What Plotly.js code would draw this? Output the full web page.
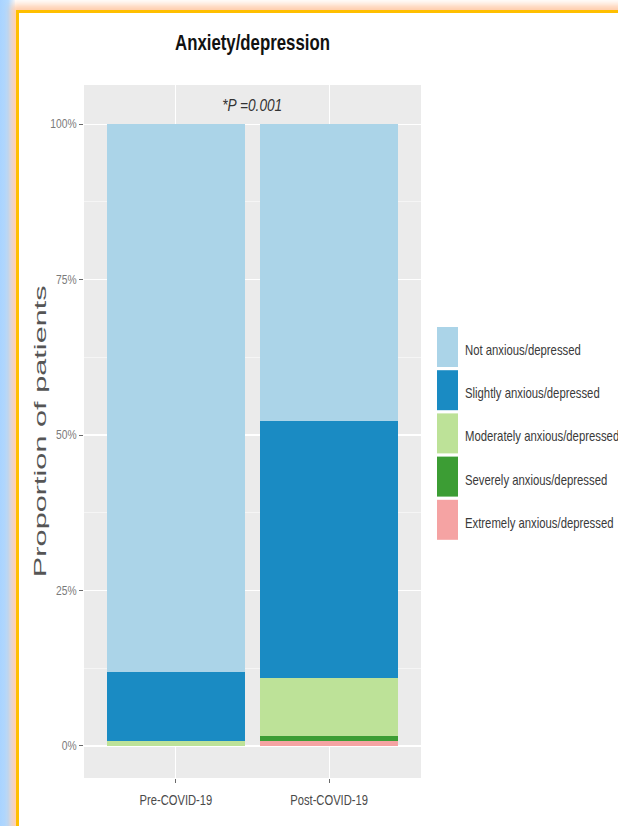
<!DOCTYPE html>
<html>
<head>
<meta charset="utf-8">
<script src="https://cdn.plot.ly/plotly-3.0.1.min.js"></script>
<style>
  html, body { margin:0; padding:0; width:618px; height:826px; overflow:hidden; background:#ffffff; }
  #strip { position:absolute; left:0; top:0; width:15px; height:826px;
    background:linear-gradient(to right, #a9d3ff 0%, #b5dbff 55%, #f4f9ff 100%); }
  #frame { position:absolute; left:16px; top:10px; width:700px; height:900px;
    border-left:3px solid #ffbf00; border-top:3px solid #ffbf00;
    box-shadow: 0 0 7px 5px rgba(255,185,140,0.75); background:#ffffff; }
  #chart { position:absolute; left:0; top:0; width:618px; height:826px; z-index:2; }
</style>
</head>
<body>
<div id="strip"></div>
<div id="frame"></div>
<div id="chart"></div>
<script>
// ---- data ----
const periods = ["Pre-COVID-19", "Post-COVID-19"];
const seriesNames = ["Not anxious/depressed", "Slightly anxious/depressed", "Moderately anxious/depressed", "Severely anxious/depressed", "Extremely anxious/depressed"];
const notAnxious = [88.1, 47.8];
const slightly   = [11.1, 41.3];
const moderately = [0.8, 9.3];
const severely   = [0.0, 0.8];
const extremely  = [0.0, 0.8];
const seriesColors = ["#abd4e8", "#1a8bc3", "#bde298", "#3c9d34", "#f5a3a3"];
const yTickVals = [0, 25, 50, 75, 100];
const yTickText = ["0%", "25%", "50%", "75%", "100%"];
const pLabel = "*P =0.001";
const yTitle = "Proportion of patients";
const chartTitle = "Anxiety/depression";

const values = [notAnxious, slightly, moderately, severely, extremely];
const sans = "Liberation Sans, Arial, sans-serif";

// stack bottom-up: extreme first
const traces = [];
for (let i = seriesNames.length - 1; i >= 0; i--) {
  traces.push({
    type: "bar",
    name: seriesNames[i],
    x: periods,
    y: values[i],
    marker: { color: seriesColors[i], line: { width: 0 } },
    showlegend: false,
    hoverinfo: "name+y"
  });
}

// manual legend (ggplot style tall keys)
const shapes = [];
const annotations = [];
const plotTop = 85, plotBottom = 778, plotLeft = 84, plotRight = 421;
const ph = plotBottom - plotTop, pw = plotRight - plotLeft;
const toPX = px => (px - plotLeft) / pw;
const toPY = py => (plotBottom - py) / ph;
seriesNames.forEach((nm, i) => {
  const top = 327 + i * 43.2;
  shapes.push({ type: "rect", xref: "paper", yref: "paper",
    x0: toPX(437), x1: toPX(458), y0: toPY(top + 40), y1: toPY(top),
    fillcolor: seriesColors[i], line: { width: 0 }, layer: "above" });
  annotations.push({ xref: "paper", yref: "paper", x: toPX(463), y: toPY(top + 23),
    xanchor: "left", yanchor: "middle", align: "left", showarrow: false, text: nm,
    font: { family: sans, size: 14, color: "#3a3a3a" } });
});
annotations.push({ xref: "paper", yref: "y", x: 0.5, y: 103.0, xanchor: "center", yanchor: "middle",
  showarrow: false, text: pLabel,
  font: { family: sans, size: 17, style: "italic", color: "#333333" } });
annotations.push({ xref: "paper", yref: "paper", x: toPX(40), y: toPY(431), xanchor: "center", yanchor: "middle",
  showarrow: false, textangle: -90, text: yTitle,
  font: { family: sans, size: 17, color: "#555555" } });

const layout = {
  width: 618, height: 826,
  margin: { l: plotLeft, r: 618 - plotRight, t: plotTop, b: 826 - plotBottom, pad: 0 },
  paper_bgcolor: "rgba(0,0,0,0)",
  plot_bgcolor: "#ebebeb",
  barmode: "stack",
  bargap: 0.1,
  title: { text: chartTitle, x: 0.5, xref: "paper", xanchor: "center",
    y: 1 - 42 / 826, yref: "container", yanchor: "middle",
    font: { family: sans, size: 22, weight: "bold", color: "#111111" } },
  xaxis: {
    type: "category", range: [-0.6, 1.6], fixedrange: true,
    showgrid: true, gridcolor: "#ffffff", gridwidth: 1,
    ticks: "outside", ticklen: 4, tickcolor: "#6a6a6a", tickwidth: 1,
    ticklabelstandoff: 5,
    tickfont: { family: sans, size: 14, color: "#4a4a4a" },
    showline: false, zeroline: false
  },
  yaxis: {
    range: [-5.15, 106.3], fixedrange: true,
    tickvals: yTickVals, ticktext: yTickText,
    showgrid: true, gridcolor: "#ffffff", gridwidth: 1.2,
    minor: { tick0: 12.5, dtick: 25, showgrid: true, gridcolor: "#ffffff", gridwidth: 0.5, ticklen: 0 },
    ticks: "outside", ticklen: 4, tickcolor: "#6a6a6a", tickwidth: 1,
    tickfont: { family: sans, size: 12, color: "#7a7a7a" },
    zeroline: false, showline: false
  },
  shapes: shapes,
  annotations: annotations,
  showlegend: false
};

// horizontal scale of a text element about its anchor x (keeps it real text)
function squeeze(el, factor, absLen) {
  const len = el.getComputedTextLength();
  const f = absLen ? absLen / len : factor;
  const x0 = parseFloat(el.getAttribute("x")) || 0;
  const prev = el.getAttribute("transform") || "";
  el.setAttribute("transform", (prev + " matrix(" + f + ",0,0,1," + ((1 - f) * x0) + ",0)").trim());
}

Plotly.newPlot("chart", traces, layout, { displayModeBar: false, staticPlot: true }).then(gd => {
  const t = gd.querySelector(".gtitle"); if (t) squeeze(t, 0, 155);
  gd.querySelectorAll(".xtick text").forEach(el => squeeze(el, 0.8));
  gd.querySelectorAll(".ytick text").forEach(el => squeeze(el, 0.86));
  const ann = gd.querySelectorAll(".annotation-text");
  ann.forEach((el, i) => {
    if (i < seriesNames.length) squeeze(el, 0.81);
    else if (i === seriesNames.length) squeeze(el, 0, 60);
    else squeeze(el, 0, 292);
  });
});
</script>
</body>
</html>
